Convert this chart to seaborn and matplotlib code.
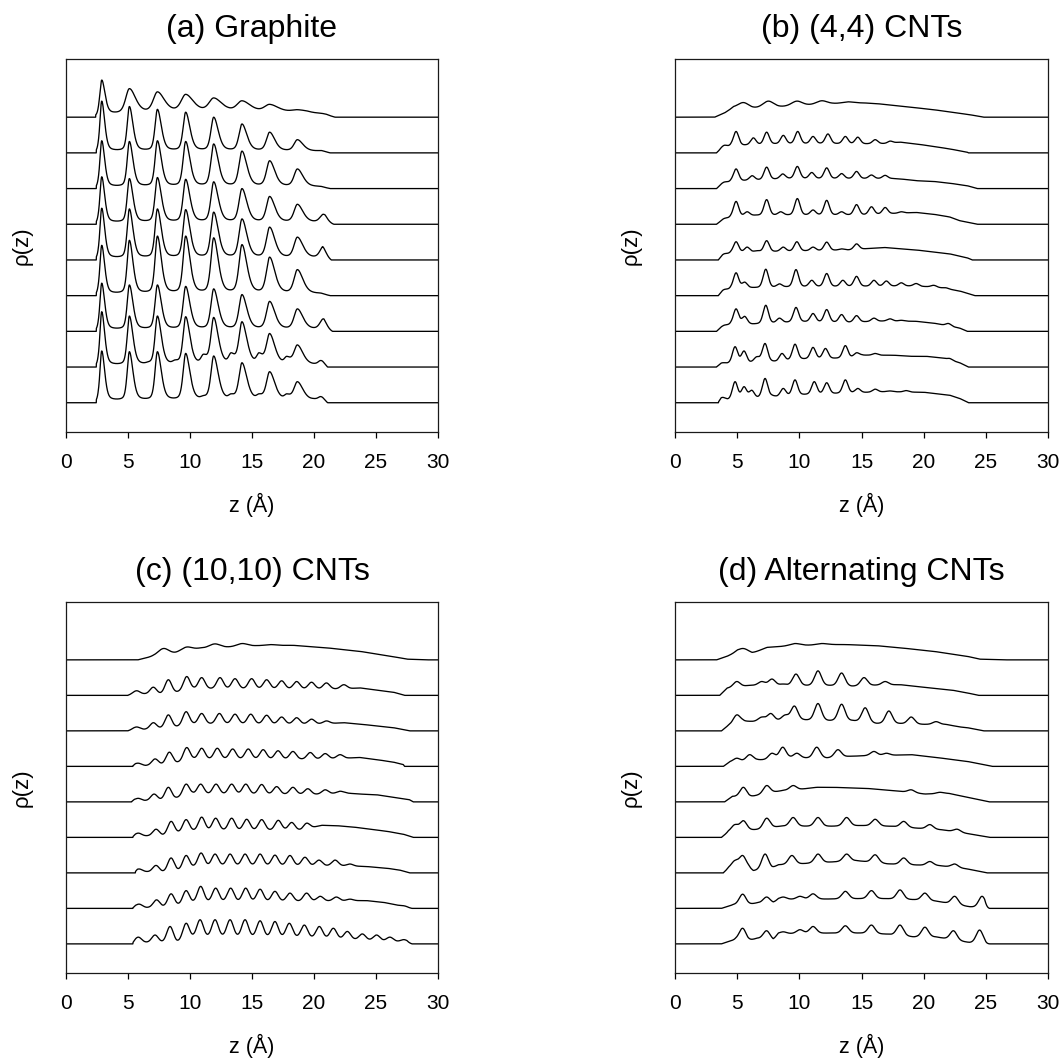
import numpy as np
import pandas as pd
import matplotlib
matplotlib.use("Agg")
import matplotlib.pyplot as plt
import seaborn as sns

# ---------------------------------------------------------------------------
# Density profiles rho(z) of the confined fluid, nine stacked curves per panel
# (top curve first).  Each curve is described by its peaks (z in Angstrom,
# height) sitting on a smooth background given by (z, level) nodes; the first
# and last background node mark where the curve leaves and returns to zero.
# ---------------------------------------------------------------------------

PANEL_TITLES = ["(a) Graphite", "(b) (4,4) CNTs", "(c) (10,10) CNTs", "(d) Alternating CNTs"]
X_TICKS = [0, 5, 10, 15, 20, 25, 30]

# ---- (a) graphite: layered peaks at fixed positions -----------------------
graphite_centers = [2.88, 5.11, 7.37, 9.65, 11.91, 14.19, 16.42, 18.66, 20.75]
graphite_fwhm = [0.45, 0.55, 0.6, 0.65, 0.7, 0.75, 0.8, 0.85, 0.85]
graphite_top_fwhm = [0.5, 0.95, 1.05, 1.15, 1.2, 1.25, 1.3, 1.4, 1.4]
graphite_heights = [
    [1.04, 0.80, 0.71, 0.64, 0.54, 0.46, 0.36, 0.21, 0.10],
    [1.45, 1.30, 1.22, 1.14, 1.00, 0.81, 0.58, 0.37, 0.06],
    [1.34, 1.32, 1.34, 1.32, 1.25, 1.05, 0.78, 0.55, 0.05],
    [1.33, 1.28, 1.31, 1.26, 1.19, 1.00, 0.78, 0.56, 0.28],
    [1.45, 1.43, 1.43, 1.41, 1.34, 1.15, 0.92, 0.64, 0.38],
    [1.41, 1.55, 1.67, 1.67, 1.62, 1.43, 1.08, 0.73, 0.06],
    [1.35, 1.30, 1.30, 1.26, 1.19, 1.03, 0.84, 0.63, 0.35],
    [1.55, 1.43, 1.43, 1.41, 1.39, 1.27, 0.94, 0.62, 0.26],
    [1.45, 1.43, 1.43, 1.38, 1.31, 1.12, 0.87, 0.59, 0.23],
]
# secondary shoulders between the main layers (only the two lowest curves)
graphite_side_peaks = [
    [], [], [], [], [], [], [],
    [(6.64, 0.15), (8.79, 0.20), (11.08, 0.36), (13.31, 0.40), (15.56, 0.40), (17.8, 0.30), (19.95, 0.10)],
    [(8.79, 0.10), (11.07, 0.20), (13.3, 0.25), (15.56, 0.25), (17.8, 0.25), (19.95, 0.12)],
]
graphite_background = [
    [(2.4, 0), (3.5, 0.08), (8.0, 0.14), (13.0, 0.16), (17.0, 0.14), (19.4, 0.13), (20.2, 0.09), (21.7, 0)],
    [(2.45, 0), (2.6, 0.04), (20.5, 0.04), (21.3, 0)],
    [(2.45, 0), (2.6, 0.04), (20.5, 0.04), (21.3, 0)],
    [(2.45, 0), (2.6, 0.04), (20.8, 0.04), (21.6, 0)],
    [(2.45, 0), (2.6, 0.04), (20.8, 0.04), (21.4, 0)],
    [(2.45, 0), (2.6, 0.04), (20.5, 0.04), (21.3, 0)],
    [(2.45, 0), (2.6, 0.04), (20.8, 0.04), (21.5, 0)],
    [(2.45, 0), (2.6, 0.04), (20.5, 0.04), (21.1, 0)],
    [(2.45, 0), (2.6, 0.05), (20.5, 0.05), (21.1, 0)],
]

# ---- (b) (4,4) CNTs -------------------------------------------------------
cnt44_peaks = [
    [(5.5, 0.41), (7.5, 0.45), (9.8, 0.45), (11.8, 0.46), (13.9, 0.43)],
    [(3.94, 0.21), (4.91, 0.60), (6.3, 0.42), (7.37, 0.58), (8.71, 0.49), (9.87, 0.60), (11.1, 0.46),
     (12.3, 0.53), (13.7, 0.46), (14.7, 0.44), (16.1, 0.37), (17.3, 0.33)],
    [(3.94, 0.18), (4.91, 0.55), (6.2, 0.36), (7.37, 0.60), (8.66, 0.41), (9.84, 0.62), (11.0, 0.45),
     (12.2, 0.58), (13.4, 0.42), (14.6, 0.48), (15.8, 0.38), (16.9, 0.37)],
    [(3.94, 0.16), (4.91, 0.64), (5.8, 0.35), (7.37, 0.69), (8.5, 0.35), (9.84, 0.72), (11.1, 0.40),
     (12.2, 0.67), (13.4, 0.35), (14.6, 0.55), (15.8, 0.49), (16.9, 0.47), (18.2, 0.35), (22.0, 0.21)],
    [(3.94, 0.17), (4.91, 0.51), (5.8, 0.36), (6.6, 0.26), (7.37, 0.54), (8.7, 0.36), (9.8, 0.51),
     (11.1, 0.36), (12.2, 0.50), (13.4, 0.31), (14.6, 0.45)],
    [(3.94, 0.17), (4.91, 0.64), (5.6, 0.38), (7.3, 0.74), (8.4, 0.33), (9.73, 0.73), (11.0, 0.43),
     (12.2, 0.62), (13.5, 0.43), (14.6, 0.54), (16.0, 0.43), (17.0, 0.41), (18.2, 0.36), (19.4, 0.34),
     (20.8, 0.29), (21.8, 0.22)],
    [(3.94, 0.17), (4.91, 0.63), (5.6, 0.42), (7.3, 0.73), (8.4, 0.37), (9.73, 0.67), (11.1, 0.50),
     (12.2, 0.61), (13.4, 0.47), (14.6, 0.44), (16.0, 0.37), (17.3, 0.35), (18.2, 0.31), (22.0, 0.22)],
    [(3.83, 0.12), (4.83, 0.57), (5.55, 0.45), (6.57, 0.29), (7.24, 0.66), (8.6, 0.38), (9.65, 0.64),
     (11.1, 0.55), (12.1, 0.52), (13.7, 0.60), (14.6, 0.40), (16.1, 0.38), (22.1, 0.24)],
    [(3.83, 0.15), (4.83, 0.59), (5.55, 0.45), (6.17, 0.35), (7.24, 0.68), (8.7, 0.40), (9.65, 0.64),
     (11.2, 0.59), (12.2, 0.56), (13.7, 0.64), (14.7, 0.40), (16.1, 0.38), (17.3, 0.33), (18.6, 0.34),
     (20.1, 0.29)],
]
cnt44_background = [
    [(3.2, 0), (4.0, 0.12), (4.7, 0.27), (6.2, 0.25), (8.4, 0.29), (10.7, 0.34), (12.7, 0.38), (15.1, 0.40),
     (16.2, 0.38), (17.6, 0.33), (19.2, 0.27), (20.8, 0.21), (22.4, 0.13), (23.7, 0.07), (24.8, 0)],
    [(3.35, 0), (3.7, 0.10), (4.5, 0.20), (6.0, 0.22), (8.0, 0.25), (12.0, 0.26), (15.0, 0.25), (17.0, 0.26),
     (18.1, 0.30), (19.4, 0.25), (20.8, 0.18), (22.1, 0.11), (23.5, 0.02), (23.6, 0)],
    [(3.35, 0), (3.7, 0.10), (4.5, 0.20), (6.0, 0.23), (9.0, 0.28), (14.0, 0.28), (17.5, 0.28), (18.1, 0.27),
     (19.4, 0.22), (20.8, 0.20), (22.1, 0.15), (23.5, 0.08), (24.3, 0)],
    [(3.35, 0), (3.7, 0.08), (4.5, 0.20), (6.5, 0.25), (10.0, 0.26), (15.0, 0.26), (17.5, 0.30), (19.4, 0.33),
     (20.8, 0.28), (22.1, 0.20), (22.9, 0.10), (24.3, 0)],
    [(3.5, 0), (3.8, 0.10), (4.5, 0.20), (6.0, 0.22), (10.0, 0.25), (14.0, 0.28), (16.8, 0.35), (19.4, 0.28),
     (20.8, 0.22), (22.1, 0.17), (23.5, 0.06), (23.9, 0)],
    [(3.5, 0), (3.8, 0.10), (4.5, 0.20), (6.2, 0.22), (10.0, 0.25), (15.0, 0.26), (19.0, 0.27), (21.0, 0.24),
     (22.9, 0.13), (24.1, 0)],
    [(3.35, 0), (3.7, 0.10), (4.5, 0.20), (6.2, 0.20), (10.0, 0.27), (14.0, 0.25), (17.0, 0.29), (19.4, 0.28),
     (20.8, 0.23), (22.9, 0.09), (23.5, 0)],
    [(3.35, 0), (3.7, 0.08), (4.3, 0.10), (6.0, 0.12), (6.9, 0.17), (8.2, 0.15), (10.0, 0.22), (14.0, 0.25),
     (15.0, 0.33), (17.6, 0.33), (18.9, 0.30), (20.2, 0.30), (21.5, 0.25), (22.9, 0.12), (23.6, 0)],
    [(3.5, 0), (3.7, 0.08), (4.3, 0.08), (6.4, 0.12), (7.8, 0.19), (8.2, 0.17), (10.0, 0.22), (14.0, 0.27),
     (17.0, 0.31), (20.0, 0.29), (22.1, 0.21), (22.9, 0.12), (23.6, 0)],
]

# ---- (c) (10,10) CNTs -----------------------------------------------------
cnt1010_peaks = [
    [(7.85, 0.32), (9.7, 0.36), (12.0, 0.45), (14.2, 0.46), (16.5, 0.43)],
    [(5.7, 0.13), (7.04, 0.23), (8.25, 0.44), (9.73, 0.53), (10.94, 0.50), (12.42, 0.50), (13.63, 0.47),
     (14.97, 0.47), (16.18, 0.44), (17.39, 0.41), (18.6, 0.39), (19.8, 0.37), (21.0, 0.35), (22.4, 0.30)],
    [(5.7, 0.11), (7.04, 0.23), (8.25, 0.45), (9.68, 0.54), (10.94, 0.49), (12.37, 0.49), (13.63, 0.47),
     (14.9, 0.47), (16.18, 0.44), (17.39, 0.39), (18.6, 0.37), (19.8, 0.33), (21.0, 0.28)],
    [(5.83, 0.09), (7.18, 0.21), (8.33, 0.40), (9.73, 0.53), (10.94, 0.51), (12.2, 0.51), (13.44, 0.49),
     (14.7, 0.49), (15.9, 0.47), (17.1, 0.44), (18.3, 0.42), (19.7, 0.39), (20.9, 0.36), (22.1, 0.33)],
    [(5.83, 0.10), (7.1, 0.22), (8.25, 0.41), (9.68, 0.50), (10.86, 0.50), (12.1, 0.50), (13.36, 0.50),
     (14.5, 0.50), (15.78, 0.49), (16.99, 0.43), (18.3, 0.41), (19.5, 0.37), (20.9, 0.34), (22.1, 0.30)],
    [(5.83, 0.12), (7.26, 0.23), (8.47, 0.45), (9.68, 0.50), (10.94, 0.57), (12.07, 0.54), (13.36, 0.54),
     (14.57, 0.51), (15.78, 0.50), (17.12, 0.48), (18.2, 0.42), (19.4, 0.40)],
    [(5.9, 0.11), (7.26, 0.21), (8.47, 0.42), (9.68, 0.49), (10.89, 0.56), (12.02, 0.53), (13.23, 0.53),
     (14.44, 0.53), (15.65, 0.53), (16.85, 0.50), (18.06, 0.49), (19.27, 0.44), (20.4, 0.36), (21.7, 0.36),
     (22.9, 0.25)],
    [(5.9, 0.12), (7.3, 0.24), (8.47, 0.41), (9.68, 0.50), (10.86, 0.62), (12.07, 0.57), (13.28, 0.57),
     (14.49, 0.57), (15.65, 0.54), (16.85, 0.48), (18.06, 0.43), (19.4, 0.43), (20.5, 0.34), (21.8, 0.32),
     (22.9, 0.26), (27.3, 0.07)],
    [(5.83, 0.19), (7.18, 0.25), (8.39, 0.49), (9.68, 0.58), (10.81, 0.68), (12.02, 0.68), (13.23, 0.68),
     (14.44, 0.68), (15.65, 0.65), (16.85, 0.63), (18.01, 0.58), (19.22, 0.53), (20.43, 0.49), (21.56, 0.44),
     (22.69, 0.35), (23.9, 0.28), (25.05, 0.25), (26.13, 0.19), (27.26, 0.12)],
]
cnt1010_background = [
    [(5.8, 0), (7.0, 0.10), (8.8, 0.19), (10.8, 0.33), (12.96, 0.36), (15.4, 0.40), (18.3, 0.41), (21.0, 0.34),
     (23.7, 0.24), (26.4, 0.09), (27.5, 0.02), (29.0, 0)],
    [(5.0, 0), (5.4, 0.04), (6.3, 0.04), (7.6, 0.04), (8.9, 0.09), (10.3, 0.18), (12.0, 0.19), (20.0, 0.18),
     (22.4, 0.18), (23.7, 0.21), (25.05, 0.15), (26.4, 0.09), (27.3, 0)],
    [(5.0, 0), (5.4, 0.04), (6.3, 0.04), (7.6, 0.07), (8.8, 0.11), (10.2, 0.19), (12.0, 0.20), (19.0, 0.19),
     (21.0, 0.20), (22.4, 0.23), (23.7, 0.19), (25.05, 0.14), (26.4, 0.09), (27.7, 0)],
    [(5.4, 0), (5.6, 0.04), (6.4, 0.02), (7.7, 0.05), (8.9, 0.10), (10.3, 0.20), (13.0, 0.21), (20.0, 0.20),
     (22.5, 0.23), (23.7, 0.25), (25.05, 0.19), (26.4, 0.12), (27.2, 0.05), (27.3, 0)],
    [(5.3, 0), (5.5, 0.04), (6.3, 0.03), (7.6, 0.05), (8.7, 0.09), (10.2, 0.22), (13.0, 0.22), (20.0, 0.21),
     (22.5, 0.25), (23.7, 0.22), (25.05, 0.20), (26.4, 0.13), (27.7, 0.06), (28.0, 0)],
    [(5.4, 0), (5.6, 0.04), (6.4, 0.04), (7.8, 0.05), (8.9, 0.12), (10.3, 0.18), (12.0, 0.20), (19.0, 0.20),
     (20.6, 0.34), (21.8, 0.33), (23.2, 0.29), (24.5, 0.23), (25.9, 0.17), (27.2, 0.09), (28.0, 0)],
    [(5.6, 0), (5.75, 0.04), (6.5, 0.03), (7.7, 0.02), (8.9, 0.05), (10.3, 0.16), (12.0, 0.20), (20.0, 0.20),
     (22.0, 0.20), (24.2, 0.18), (25.9, 0.13), (26.9, 0.08), (27.7, 0)],
    [(5.4, 0), (5.6, 0.04), (6.5, 0.02), (7.8, 0.04), (8.9, 0.08), (10.3, 0.16), (12.0, 0.19), (19.0, 0.20),
     (22.0, 0.21), (24.2, 0.22), (25.6, 0.17), (27.0, 0.07), (27.9, 0)],
    [(5.4, 0), (5.6, 0.04), (6.5, 0.04), (7.7, 0.04), (8.9, 0.04), (10.3, 0.18), (12.0, 0.20), (19.0, 0.18),
     (22.0, 0.14), (24.0, 0.11), (26.0, 0.08), (27.5, 0.05), (27.9, 0)],
]

# ---- (d) alternating CNTs -------------------------------------------------
altcnt_peaks = [
    [(5.5, 0.32), (9.65, 0.46), (11.8, 0.46)],
    [(4.96, 0.39), (6.97, 0.39), (7.8, 0.46), (8.7, 0.32), (9.73, 0.60), (11.5, 0.69), (13.4, 0.63),
     (15.2, 0.50), (16.9, 0.39)],
    [(4.96, 0.45), (6.97, 0.39), (7.7, 0.49), (8.85, 0.45), (9.6, 0.70), (11.5, 0.77), (13.4, 0.75),
     (15.3, 0.65), (17.2, 0.56), (19.0, 0.39), (21.0, 0.26)],
    [(4.96, 0.23), (6.0, 0.33), (7.8, 0.37), (8.66, 0.54), (9.8, 0.37), (11.4, 0.54), (13.1, 0.47),
     (16.0, 0.42), (17.0, 0.37)],
    [(5.5, 0.41), (7.37, 0.46), (9.5, 0.46), (19.0, 0.34), (21.3, 0.27)],
    [(4.8, 0.36), (5.5, 0.47), (7.37, 0.54), (9.5, 0.56), (11.5, 0.56), (13.8, 0.56), (16.1, 0.51),
     (18.4, 0.45), (20.5, 0.36), (22.7, 0.23)],
    [(4.8, 0.35), (5.44, 0.49), (7.24, 0.53), (9.4, 0.49), (11.5, 0.53), (13.8, 0.53), (16.1, 0.51),
     (18.4, 0.42), (20.5, 0.32), (22.5, 0.25)],
    [(5.44, 0.40), (7.37, 0.32), (8.7, 0.32), (10.05, 0.34), (11.1, 0.41), (13.7, 0.48), (15.8, 0.50),
     (18.1, 0.52), (20.1, 0.43), (22.5, 0.34), (24.7, 0.34)],
    [(5.44, 0.44), (7.37, 0.37), (8.7, 0.34), (10.05, 0.40), (11.1, 0.49), (13.7, 0.51), (15.8, 0.53),
     (18.1, 0.53), (20.1, 0.47), (22.4, 0.37), (24.5, 0.39)],
]
altcnt_background = [
    [(3.35, 0), (4.2, 0.10), (5.0, 0.22), (6.2, 0.18), (7.4, 0.35), (8.7, 0.38), (10.6, 0.41), (12.5, 0.43),
     (13.8, 0.43), (16.2, 0.40), (18.1, 0.34), (20.8, 0.24), (23.5, 0.10), (24.5, 0.02), (26.4, 0)],
    [(3.6, 0), (4.2, 0.20), (5.4, 0.25), (6.0, 0.28), (8.2, 0.27), (10.5, 0.27), (12.5, 0.27), (14.2, 0.25),
     (15.9, 0.28), (18.1, 0.30), (19.4, 0.25), (20.8, 0.20), (22.4, 0.14), (23.5, 0.07), (24.4, 0)],
    [(3.75, 0), (4.3, 0.15), (5.4, 0.27), (6.3, 0.26), (8.3, 0.28), (10.3, 0.30), (12.4, 0.28), (14.3, 0.28),
     (16.2, 0.20), (18.1, 0.20), (20.0, 0.18), (21.8, 0.18), (22.9, 0.11), (23.5, 0.09), (24.8, 0)],
    [(3.9, 0), (4.4, 0.12), (5.4, 0.14), (6.6, 0.18), (8.1, 0.18), (9.2, 0.23), (10.3, 0.23), (12.2, 0.23),
     (14.0, 0.28), (15.5, 0.30), (16.5, 0.30), (19.0, 0.33), (20.8, 0.26), (23.5, 0.14), (25.5, 0)],
    [(4.0, 0), (4.6, 0.15), (5.9, 0.13), (6.6, 0.18), (7.9, 0.27), (8.7, 0.32), (10.0, 0.35), (11.4, 0.41),
     (12.7, 0.41), (15.4, 0.38), (16.8, 0.34), (18.0, 0.30), (20.1, 0.22), (22.0, 0.24), (23.5, 0.13), (25.3, 0)],
    [(3.75, 0), (4.3, 0.15), (6.0, 0.20), (6.8, 0.22), (8.5, 0.31), (10.5, 0.31), (12.6, 0.31), (15.0, 0.33),
     (17.3, 0.31), (19.3, 0.26), (21.5, 0.21), (24.0, 0.08), (25.3, 0)],
    [(3.9, 0), (4.3, 0.12), (5.9, 0.15), (6.3, 0.05), (7.8, 0.12), (8.3, 0.22), (10.05, 0.25), (12.5, 0.30),
     (14.6, 0.34), (17.1, 0.25), (19.3, 0.22), (21.3, 0.20), (23.5, 0.11), (25.1, 0)],
    [(3.75, 0), (4.7, 0.10), (5.85, 0.10), (6.6, 0.15), (7.9, 0.15), (8.3, 0.25), (12.2, 0.26), (14.9, 0.27),
     (17.0, 0.27), (19.3, 0.24), (21.0, 0.20), (23.7, 0.04), (25.3, 0)],
    [(3.75, 0), (4.2, 0.05), (4.9, 0.12), (5.85, 0.08), (6.6, 0.15), (7.9, 0.10), (8.3, 0.28), (12.2, 0.30),
     (14.9, 0.30), (17.0, 0.27), (19.2, 0.19), (21.0, 0.19), (23.7, 0.03), (25.3, 0)],
]


def peak_shape(d, fwhm, eta, skew):
    """Asymmetric pseudo-Voigt profile of unit height."""
    w = np.where(d < 0, fwhm * (1.0 - skew), fwhm * (1.0 + skew))
    x = d / w
    gauss = np.exp(-4.0 * np.log(2.0) * x ** 2)
    lorentz = 1.0 / (1.0 + 4.0 * x ** 2)
    return (1.0 - eta) * gauss + eta * lorentz


def build_profile(z, peaks, background, fwhm, eta, skew, fade=0.4):
    bz = np.array([p[0] for p in background], dtype=float)
    bl = np.array([p[1] for p in background], dtype=float)
    y = np.interp(z, bz, bl, left=0.0, right=0.0)
    if peaks:
        pz = np.array([p[0] for p in peaks], dtype=float)
        ph = np.array([p[1] for p in peaks], dtype=float)
        fw = np.broadcast_to(np.asarray(fwhm, dtype=float), pz.shape)
        # amplitudes chosen so the curve reaches each listed height at its peak
        mat = peak_shape(pz[:, None] - pz[None, :], fw[None, :], eta, skew)
        amp = np.linalg.solve(mat, ph - np.interp(pz, bz, bl))
        amp = np.clip(amp, 0.0, None)
        bumps = (amp[None, :] * peak_shape(z[:, None] - pz[None, :], fw[None, :], eta, skew)).sum(axis=1)
        # peak wings die out over the last stretch before the curve ends
        bumps *= np.clip((bz[-1] - z) / fade, 0.0, 1.0)
        y = y + bumps
    inside = (z >= bz[0]) & (z <= bz[-1])
    return np.where(inside, y, 0.0)


z = np.round(np.arange(0.0, 30.0001, 0.01), 4)
n_traces = 9
rows = []

for i in range(n_traces):
    offset = n_traces - 1 - i
    # (a) graphite
    main = list(zip(graphite_centers, graphite_heights[i]))
    side = graphite_side_peaks[i]
    fw = (graphite_top_fwhm if i == 0 else graphite_fwhm) + [0.6] * len(side)
    ya = build_profile(z, main + side, graphite_background[i], fw, 0.4, 0.25, fade=0.7)
    # (b) (4,4)
    yb = build_profile(z, cnt44_peaks[i], cnt44_background[i], 1.0 if i == 0 else 0.5, 0.15, 0.0)
    # (c) (10,10)
    yc = build_profile(z, cnt1010_peaks[i], cnt1010_background[i], 1.0 if i == 0 else 0.62, 0.05, 0.0)
    # (d) alternating
    yd = build_profile(z, altcnt_peaks[i], altcnt_background[i], 1.0 if i == 0 else 0.65, 0.15, 0.0)
    for panel, y in zip(PANEL_TITLES, (ya, yb, yc, yd)):
        rows.append(pd.DataFrame({"panel": panel, "trace": i, "z": z, "rho": y + offset}))

profiles = pd.concat(rows, ignore_index=True)

sns.set_style("white")
plt.rcParams["font.family"] = ["Liberation Sans", "DejaVu Sans"]
plt.rcParams["text.color"] = "black"
plt.rcParams["axes.labelcolor"] = "black"
plt.rcParams["xtick.color"] = "black"

fig = plt.figure(figsize=(10.64, 10.61), dpi=100)
W, H = 1064.0, 1061.0
boxes = [(66, 59, 438, 432), (675, 59, 1048, 432), (66, 602, 438, 973), (675, 602, 1048, 973)]

for title, (x0, y0, x1, y1) in zip(PANEL_TITLES, boxes):
    ax = fig.add_axes([x0 / W, 1 - y1 / H, (x1 - x0) / W, (y1 - y0) / H])
    sub = profiles[profiles["panel"] == title]
    sns.lineplot(data=sub, x="z", y="rho", units="trace", estimator=None, sort=False,
                 color="black", linewidth=0.95, ax=ax, legend=False)
    ax.set_xlim(0, 30)
    ax.set_ylim(-0.82, 9.63)
    ax.set_xticks(X_TICKS)
    ax.set_xticklabels([str(t) for t in X_TICKS])
    ax.set_yticks([])
    ax.tick_params(axis="x", direction="out", length=4, width=0.9, pad=11,
                   labelsize=15, colors="black", bottom=True)
    for sp in ax.spines.values():
        sp.set_visible(True)
        sp.set_color("#1a1a1a")
        sp.set_linewidth(0.9)
    ax.set_title(title, fontsize=23, pad=16, color="black")
    ax.set_xlabel("z (Å)", fontsize=15.5, labelpad=15)
    ax.set_ylabel("ρ(z)", fontsize=16, labelpad=24)

fig.savefig("out.png", dpi=100)
